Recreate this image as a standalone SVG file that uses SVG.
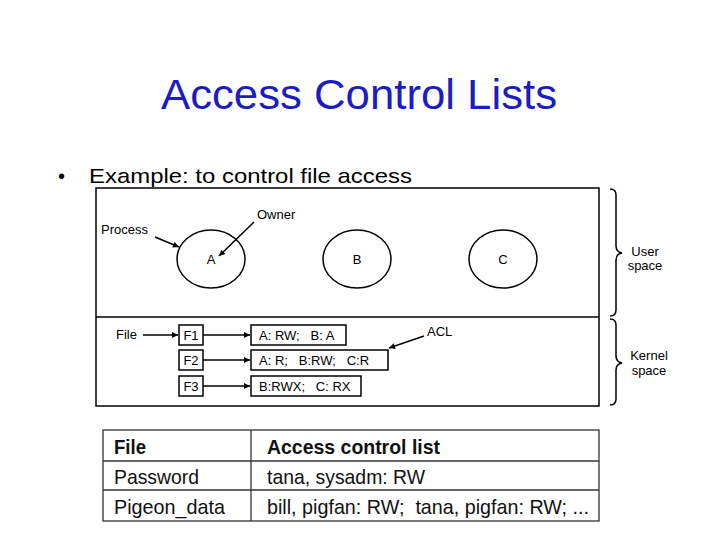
<svg xmlns="http://www.w3.org/2000/svg" width="720" height="540" viewBox="0 0 720 540">
<style>
.t{font-family:"Liberation Sans",Arial,sans-serif;fill:#000}
.s{font-size:13px}
.ln{stroke:#000;stroke-width:1.5;fill:none}
.bx{stroke:#000;stroke-width:1.5;fill:#fff}
.tb{font-family:"Liberation Sans",Arial,sans-serif;font-size:21px;fill:#111}
.tl{stroke:#333;stroke-width:1.3;fill:none}
</style>
<defs>
<marker id="ah" viewBox="0 0 10 10" refX="10" refY="5" markerWidth="8" markerHeight="6" orient="auto" markerUnits="userSpaceOnUse"><path d="M0,0 L10,5 L0,10 Z" fill="#000"/></marker>
</defs>
<rect width="720" height="540" fill="#fff"/>
<text x="359" y="109" text-anchor="middle" font-family="Liberation Sans,Arial,sans-serif" font-size="43" fill="#1c1cc4" textLength="396" lengthAdjust="spacingAndGlyphs">Access Control Lists</text>
<text x="58" y="183" font-family="Liberation Sans,Arial,sans-serif" font-size="20" fill="#000">•</text>
<text x="89" y="183" font-family="Liberation Sans,Arial,sans-serif" font-size="21" fill="#000" textLength="323" lengthAdjust="spacingAndGlyphs">Example: to control file access</text>

<g id="frame">
<rect x="96" y="188" width="503" height="218" class="ln"/>
<line x1="96" y1="317" x2="599" y2="317" class="ln"/>
</g>
<g id="procA"><ellipse cx="211" cy="259" rx="34" ry="29" class="ln"/><text x="211" y="264" text-anchor="middle" class="t s">A</text></g>
<g id="procB"><ellipse cx="357" cy="259" rx="34" ry="29" class="ln"/><text x="357" y="264" text-anchor="middle" class="t s">B</text></g>
<g id="procC"><ellipse cx="503" cy="259" rx="34" ry="29" class="ln"/><text x="503" y="264" text-anchor="middle" class="t s">C</text></g>
<g id="labels">
<text x="101" y="234" class="t s">Process</text>
<text x="257" y="219" class="t s">Owner</text>
<text x="116" y="339" class="t s">File</text>
<text x="427" y="336" class="t s">ACL</text>
<text x="645" y="256" text-anchor="middle" class="t s">User</text>
<text x="645" y="270" text-anchor="middle" class="t s">space</text>
<text x="649" y="360" text-anchor="middle" class="t s">Kernel</text>
<text x="649" y="375" text-anchor="middle" class="t s">space</text>
</g>
<g id="braces" class="ln" stroke-width="1.2">
<path d="M610,189 Q616,189 616,195 L616,246 Q616,252 622,253 Q616,254 616,260 L616,310 Q616,316 610,316"/>
<path d="M610,319 Q616,319 616,325 L616,356 Q616,362 622,363 Q616,364 616,370 L616,399 Q616,405 610,405"/>
</g>
<g id="F1"><rect x="179" y="325" width="24" height="20" class="bx"/><text x="191" y="340" text-anchor="middle" class="t s">F1</text></g>
<g id="F2"><rect x="179" y="350" width="24" height="20" class="bx"/><text x="191" y="365" text-anchor="middle" class="t s">F2</text></g>
<g id="F3"><rect x="179" y="376" width="24" height="20" class="bx"/><text x="191" y="391" text-anchor="middle" class="t s">F3</text></g>
<g id="acl1"><rect x="251" y="325" width="95" height="20" class="bx"/><text x="259" y="340" class="t s" xml:space="preserve">A: RW;   B: A</text></g>
<g id="acl2"><rect x="251" y="350" width="137" height="20" class="bx"/><text x="259" y="365" class="t s" xml:space="preserve">A: R;   B:RW;   C:R</text></g>
<g id="acl3"><rect x="251" y="376" width="110" height="20" class="bx"/><text x="259" y="391" class="t s" xml:space="preserve">B:RWX;   C: RX</text></g>
<g id="connectors" class="ln" stroke-width="1.3">
<line x1="155" y1="237" x2="179" y2="247" marker-end="url(#ah)"/>
<line x1="254" y1="222" x2="219" y2="256" marker-end="url(#ah)"/>
<line x1="143" y1="335" x2="178" y2="335" marker-end="url(#ah)"/>
<line x1="203" y1="335" x2="250" y2="335" marker-end="url(#ah)"/>
<line x1="203" y1="360" x2="250" y2="360" marker-end="url(#ah)"/>
<line x1="203" y1="386" x2="250" y2="386" marker-end="url(#ah)"/>
<line x1="424" y1="336" x2="389" y2="348" marker-end="url(#ah)"/>
</g>
<g id="table">
<rect x="103" y="430" width="496" height="91" class="tl"/>
<line x1="103" y1="461" x2="599" y2="461" class="tl"/>
<line x1="103" y1="490" x2="599" y2="490" class="tl"/>
<line x1="251" y1="430" x2="251" y2="521" class="tl"/>
<text x="114" y="454" class="tb" font-weight="bold" textLength="32" lengthAdjust="spacingAndGlyphs">File</text>
<text x="267" y="454" class="tb" font-weight="bold" textLength="173" lengthAdjust="spacingAndGlyphs">Access control list</text>
<text x="114" y="484" class="tb" textLength="85" lengthAdjust="spacingAndGlyphs">Password</text>
<text x="267" y="484" class="tb" textLength="158" lengthAdjust="spacingAndGlyphs">tana, sysadm: RW</text>
<text x="114" y="514" class="tb" textLength="111" lengthAdjust="spacingAndGlyphs">Pigeon_data</text>
<text x="267" y="514" class="tb" textLength="322" lengthAdjust="spacingAndGlyphs" xml:space="preserve">bill, pigfan: RW;  tana, pigfan: RW; ...</text>
</g>
</svg>
